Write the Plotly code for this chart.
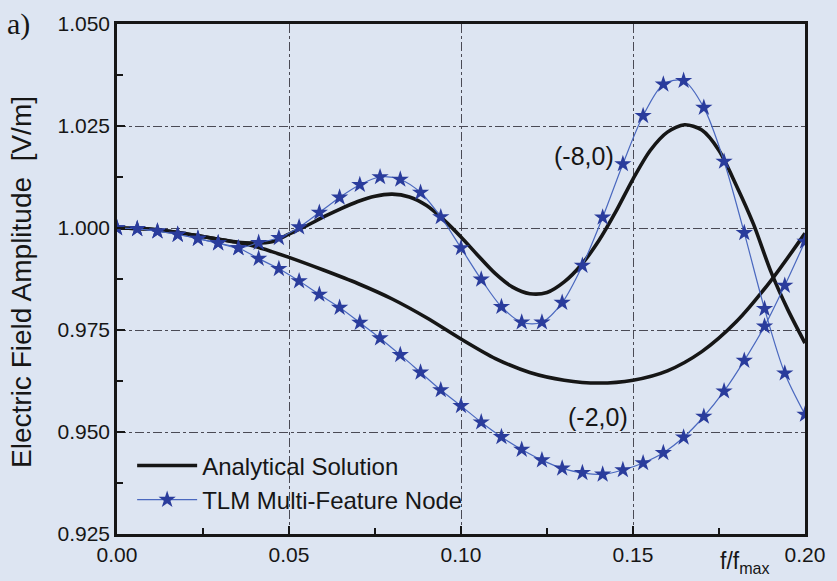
import plotly.graph_objects as go

# Analytical solution, source at (-2,0)
f_ana_m2 = [0.00, 0.01, 0.02, 0.03, 0.035, 0.04, 0.045, 0.05, 0.06, 0.07, 0.08, 0.09,
            0.10, 0.11, 0.12, 0.13, 0.14, 0.15, 0.16, 0.17, 0.18, 0.19, 0.20]
e_ana_m2 = [1.0000, 0.9997, 0.9986, 0.9972, 0.9965, 0.9955, 0.9942, 0.9928, 0.9897, 0.9864,
            0.9826, 0.9780, 0.9728, 0.9680, 0.9646, 0.9627, 0.9620, 0.9627, 0.9650, 0.9697,
            0.9770, 0.9870, 0.9987]

# Analytical solution, source at (-8,0)
f_ana_m8 = [0.00, 0.01, 0.02, 0.03, 0.035, 0.04, 0.045, 0.05, 0.055, 0.06, 0.065, 0.07,
            0.075, 0.08, 0.085, 0.09, 0.095, 0.10, 0.105, 0.11, 0.115, 0.12, 0.125, 0.13,
            0.135, 0.14, 0.145, 0.15, 0.155, 0.16, 0.165, 0.17, 0.175, 0.18, 0.185, 0.19,
            0.195, 0.20]
e_ana_m8 = [1.0000, 0.9997, 0.9986, 0.9972, 0.9965, 0.9963, 0.9966, 0.9985, 1.0005, 1.0027,
            1.0047, 1.0065, 1.0078, 1.0083, 1.0076, 1.0055, 1.0020, 0.9978, 0.9932, 0.9888,
            0.9855, 0.9839, 0.9842, 0.9868, 0.9910, 0.9968, 1.0040, 1.0120, 1.0190, 1.0235,
            1.0253, 1.0240, 1.0190, 1.0105, 1.0010, 0.9895, 0.9800, 0.9718]

# TLM multi-feature node samples (35 frequency points)
f_tlm = [0.0, 0.00588, 0.01176, 0.01765, 0.02353, 0.02941, 0.03529, 0.04118, 0.04706,
         0.05294, 0.05882, 0.06471, 0.07059, 0.07647, 0.08235, 0.08824, 0.09412, 0.1,
         0.10588, 0.11176, 0.11765, 0.12353, 0.12941, 0.13529, 0.14118, 0.14706, 0.15294,
         0.15882, 0.16471, 0.17059, 0.17647, 0.18235, 0.18824, 0.19412, 0.2]
e_tlm_m2 = [1.0000, 0.9998, 0.9992, 0.9984, 0.9974, 0.9963, 0.9951, 0.9925, 0.9900,
            0.9870, 0.9837, 0.9805, 0.9768, 0.9730, 0.9689, 0.9646, 0.9603, 0.9564,
            0.9524, 0.9488, 0.9457, 0.9431, 0.9411, 0.9400, 0.9396, 0.9407, 0.9424,
            0.9449, 0.9487, 0.9538, 0.9600, 0.9675, 0.9759, 0.9859, 0.9967]
e_tlm_m8 = [1.0000, 0.9998, 0.9992, 0.9984, 0.9974, 0.9963, 0.9951, 0.9964, 0.9976,
            1.0002, 1.0038, 1.0075, 1.0106, 1.0125, 1.0119, 1.0087, 1.0027, 0.9951,
            0.9874, 0.9807, 0.9769, 0.9769, 0.9817, 0.9908, 1.0026, 1.0157, 1.0275,
            1.0352, 1.0361, 1.0295, 1.0163, 0.9988, 0.9802, 0.9644, 0.9543]

x_ticks = [0.00, 0.05, 0.10, 0.15, 0.20]
y_ticks = [0.925, 0.950, 0.975, 1.000, 1.025, 1.050]

BG = "rgb(221,229,242)"
INK = "#161616"
STAR = "#2a3c9c"
THIN = "#4a68bf"
FONT = "Liberation Sans, Arial, sans-serif"

fig = go.Figure()

for f, e, show in [(f_ana_m8, e_ana_m8, True), (f_ana_m2, e_ana_m2, False)]:
    fig.add_trace(go.Scatter(
        x=f, y=e, mode="lines", name="Analytical Solution", showlegend=show,
        line=dict(color=INK, width=3.6, shape="spline", smoothing=0.8),
    ))

for f, e, show in [(f_tlm, e_tlm_m8, True), (f_tlm, e_tlm_m2, False)]:
    fig.add_trace(go.Scatter(
        x=f, y=e, mode="lines+markers", name="TLM Multi-Feature Node", showlegend=show,
        line=dict(color=THIN, width=1.2, shape="spline", smoothing=0.9),
        marker=dict(symbol="star", size=13, color=STAR, line=dict(width=0)),
    ))

axis_common = dict(
    showline=True, linecolor=INK, linewidth=2.5, mirror=True,
    ticks="inside", ticklen=8, tickwidth=1.5, tickcolor=INK,
    showgrid=True, gridcolor="#4a4a55", gridwidth=1, griddash="dashdot",
    zeroline=False,
    tickfont=dict(family=FONT, size=21, color=INK),
)

fig.update_xaxes(
    range=[0, 0.2], tickvals=x_ticks, ticktext=[f"{v:.2f}" for v in x_ticks],
    minor=dict(ticks="inside", dtick=0.025, ticklen=6, tickwidth=1.5, tickcolor=INK, showgrid=False),
    **axis_common,
)
fig.update_yaxes(
    range=[0.925, 1.050], tickvals=y_ticks, ticktext=[f"{v:.3f}" for v in y_ticks],
    minor=dict(ticks="inside", dtick=0.0125, ticklen=6, tickwidth=1.5, tickcolor=INK, showgrid=False),
    **axis_common,
)

fig.add_annotation(text="(-8,0)", x=0.1358, y=1.0176, xref="x", yref="y",
                   showarrow=False, font=dict(family=FONT, size=25, color=INK))
fig.add_annotation(text="(-2,0)", x=0.1398, y=0.9538, xref="x", yref="y",
                   showarrow=False, font=dict(family=FONT, size=25, color=INK))
fig.add_annotation(text="f/f<sub>max</sub>", x=0.1826, y=-0.0227, xref="x", yref="paper",
                   xanchor="center", yanchor="top", showarrow=False,
                   font=dict(family=FONT, size=23, color=INK))
fig.add_annotation(text="Electric Field Amplitude  [V/m]", x=-0.139, y=0.495,
                   xref="paper", yref="paper", textangle=-90, showarrow=False,
                   xanchor="center", yanchor="middle",
                   font=dict(family=FONT, size=28, color=INK))
fig.add_annotation(text="a)", x=-0.1436, y=1.0, xref="paper", yref="paper",
                   xanchor="center", yanchor="middle", showarrow=False,
                   font=dict(family="Liberation Serif, Times New Roman, serif", size=30, color=INK))

fig.update_layout(
    width=837, height=581,
    margin=dict(l=117, r=24, t=18.5, b=46.5),
    paper_bgcolor=BG, plot_bgcolor=BG,
    showlegend=True,
    legend=dict(
        x=0.022, y=0.1777, xanchor="left", yanchor="top",
        bgcolor="rgba(0,0,0,0)", borderwidth=0,
        font=dict(family=FONT, size=24, color=INK),
        itemwidth=60, tracegroupgap=0,
    ),
)

fig.write_html("out.html")
